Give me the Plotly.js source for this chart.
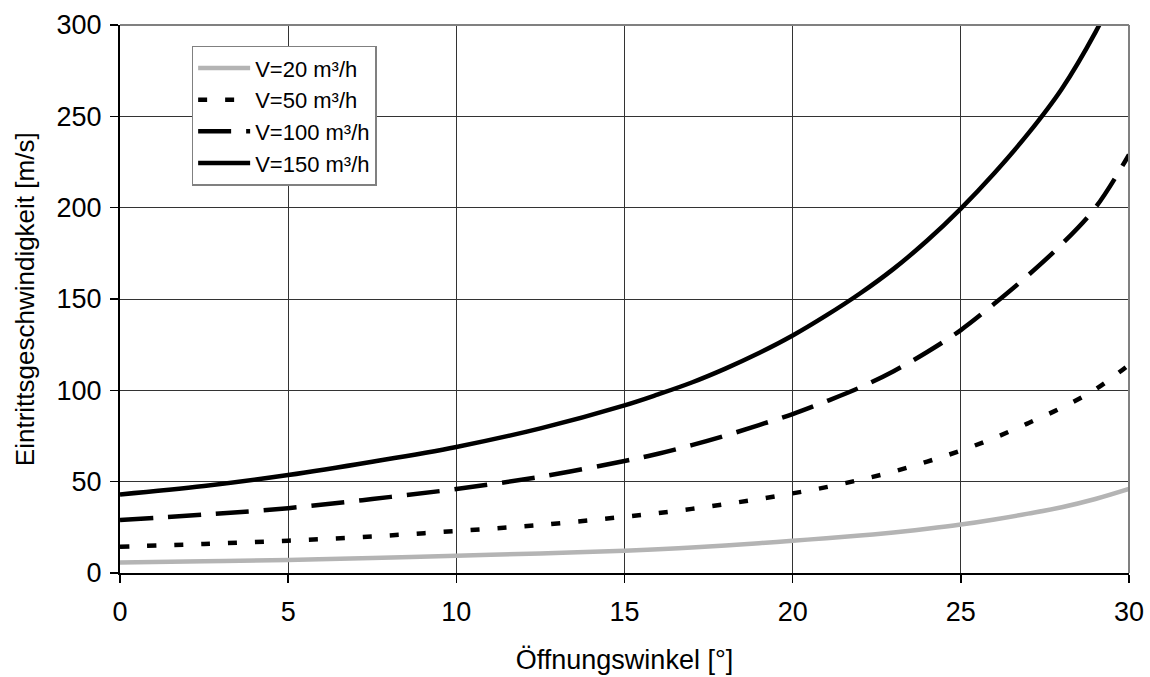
<!DOCTYPE html>
<html>
<head>
<meta charset="utf-8">
<script src="https://cdn.plot.ly/plotly-3.0.1.min.js"></script>
<style>html,body{margin:0;padding:0;background:#fff;}#chart{width:1150px;height:677px;}</style>
</head>
<body>
<div id="chart"></div>
<script>
// Öffnungswinkel [°]
const angles = [0, 2.5, 5, 7.5, 10, 12.5, 15, 16, 17, 18, 19, 20, 21, 22, 23, 24, 25, 26, 27, 28, 29, 30];
// Eintrittsgeschwindigkeit [m/s]
const v20  = [5.8, 6.4, 7.1, 8.2, 9.5, 10.7, 12.2, 13, 14, 15.1, 16.3, 17.7, 19, 20.5, 22.2, 24.2, 26.5, 29.3, 32.5, 36, 40.5, 46];
const v50  = [14.4, 15.9, 17.7, 20, 23, 26.3, 30.8, 32.8, 35.1, 37.7, 40.5, 43.6, 47, 51, 55.5, 61, 67, 74, 82, 90.5, 100.5, 114];
const v100 = [29, 32, 35.5, 40.5, 46, 52.7, 61.3, 65.3, 70, 75.2, 81, 87, 94, 101.5, 110.5, 121, 133, 147.5, 163, 180, 200, 229];
const v150 = [43, 47.6, 53.6, 60.9, 69, 79.2, 91.8, 97.8, 104.3, 111.9, 120.4, 130, 141, 153, 166.5, 182, 199.5, 219, 240.5, 265, 296, 333];
const seriesNames = ["V=20 m³/h", "V=50 m³/h", "V=100 m³/h", "V=150 m³/h"];
const xTicks = [0, 5, 10, 15, 20, 25, 30];
const yTicks = [0, 50, 100, 150, 200, 250, 300];
const xTitle = "Öffnungswinkel [°]";
const yTitle = "Eintrittsgeschwindigkeit [m/s]";

const font = "Liberation Sans, Arial, sans-serif";
const traces = [
  {x: angles, y: v20,  name: seriesNames[0], mode: "lines", line: {color: "#b4b4b4", width: 4.5, shape: "spline"}},
  {x: angles, y: v50,  name: seriesNames[1], mode: "lines", line: {color: "#000", width: 4.5, dash: "9px,18px", shape: "spline"}},
  {x: angles, y: v100, name: seriesNames[2], mode: "lines", line: {color: "#000", width: 4.5, dash: "33px,15px", shape: "spline"}},
  {x: angles, y: v150, name: seriesNames[3], mode: "lines", line: {color: "#000", width: 4.5, shape: "spline"}}
];

const layout = {
  width: 1150, height: 677,
  margin: {l: 120, r: 21, t: 25, b: 104},
  paper_bgcolor: "#fff", plot_bgcolor: "#fff",
  font: {family: font, color: "#000", size: 26},
  showlegend: true,
  legend: {
    x: 0.071, y: 0.962, xanchor: "left", yanchor: "top",
    bgcolor: "#fff", bordercolor: "#808080", borderwidth: 1.5,
    font: {family: font, size: 22, color: "#000"},
    traceorder: "normal", itemwidth: 52
  },
  xaxis: {
    range: [0, 30], tickvals: xTicks, ticktext: xTicks.map(String),
    showgrid: true, gridcolor: "#333", gridwidth: 1,
    showline: true, linecolor: "#000", linewidth: 2,
    ticks: "outside", ticklen: 8, tickcolor: "#000", tickwidth: 1.5,
    ticklabelstandoff: 6,
    zeroline: false, tickfont: {size: 27},
    title: {text: xTitle, font: {size: 27}, standoff: 24}
  },
  yaxis: {
    range: [0, 300], tickvals: yTicks, ticktext: yTicks.map(String),
    showgrid: true, gridcolor: "#333", gridwidth: 1,
    showline: true, linecolor: "#000", linewidth: 2,
    ticks: "outside", ticklen: 8, tickcolor: "#000", tickwidth: 1.5,
    ticklabelstandoff: 3,
    zeroline: false, tickfont: {size: 27},
    title: {text: ""}
  },
  annotations: [
    {text: yTitle, textangle: -90, xref: "paper", yref: "paper", x: -0.094, y: 0.5,
     xanchor: "center", yanchor: "middle", showarrow: false, font: {size: 26, family: font, color: "#000"}}
  ],
  shapes: [
    {type: "line", xref: "paper", yref: "paper", x0: 0, x1: 1, y0: 1, y1: 1, line: {color: "#808080", width: 2}, layer: "above"},
    {type: "line", xref: "paper", yref: "paper", x0: 1, x1: 1, y0: 0, y1: 1, line: {color: "#808080", width: 2}, layer: "above"}
  ]
};

Plotly.newPlot("chart", traces, layout, {displayModeBar: false, staticPlot: true});
</script>
</body>
</html>
